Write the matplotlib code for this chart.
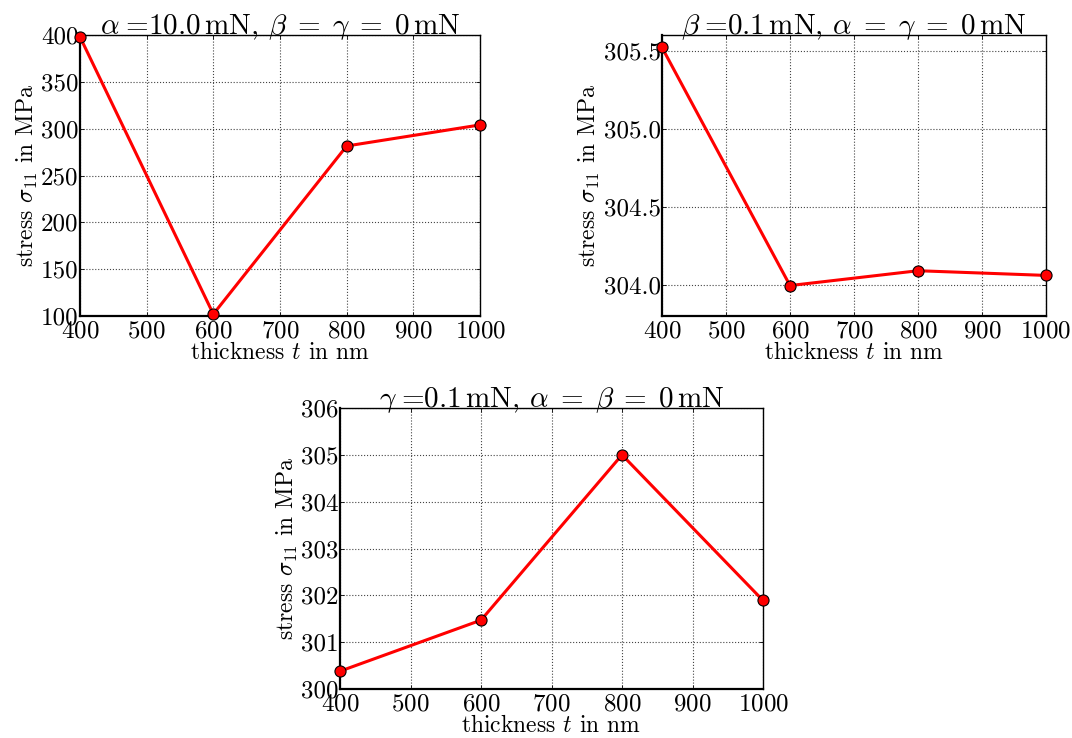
import matplotlib
matplotlib.use('Agg')
import matplotlib.pyplot as plt
from matplotlib.ticker import FormatStrFormatter

plt.rcParams['font.family'] = 'serif'
plt.rcParams['font.serif'] = ['cmr10', 'DejaVu Serif']
plt.rcParams['mathtext.fontset'] = 'cm'
plt.rcParams['axes.formatter.use_mathtext'] = True

# 数据
thickness = [400, 600, 800, 1000]
stress_alpha = [398.0, 102.0, 281.5, 304.0]
stress_beta = [305.52, 303.995, 304.09, 304.06]
stress_gamma = [300.38, 301.47, 305.0, 301.89]

titles = [
    r'$\alpha\;$=10.0$\,$mN, $\beta\;=\;\gamma\;=\;0\,$mN',
    r'$\beta\;$=0.1$\,$mN, $\alpha\;=\;\gamma\;=\;0\,$mN',
    r'$\gamma\;$=0.1$\,$mN, $\alpha\;=\;\beta\;=\;0\,$mN',
]
ylims = [(100, 400), (303.8, 305.6), (300, 306)]
yticks = [[100, 150, 200, 250, 300, 350, 400],
          [304.0, 304.5, 305.0, 305.5],
          [300, 301, 302, 303, 304, 305, 306]]
yfmt = ['%d', '%.1f', '%d']
xticks = [400, 500, 600, 700, 800, 900, 1000]

W, H = 1072, 738
# 轴位置 (像素): left, top, right, bottom
boxes = [(80, 35, 480, 316), (662, 35, 1046, 316), (340, 408, 763, 689)]

fig = plt.figure(figsize=(W / 100, H / 100), dpi=100)

for k, (series, title) in enumerate(zip([stress_alpha, stress_beta, stress_gamma], titles)):
    l, t, r, b = boxes[k]
    ax = fig.add_axes([l / W, 1 - b / H, (r - l) / W, (b - t) / H])
    ax.plot(thickness, series, '-', color='red', linewidth=2.2, marker='o',
            markersize=8, markerfacecolor='red', markeredgecolor='black',
            markeredgewidth=0.8, clip_on=False, zorder=3)
    ax.set_xlim(400, 1000)
    ax.set_ylim(*ylims[k])
    ax.set_xticks(xticks)
    ax.set_yticks(yticks[k])
    ax.yaxis.set_major_formatter(FormatStrFormatter(yfmt[k]))
    ax.grid(True, linestyle=':', color='#444444', linewidth=0.8)
    ax.tick_params(direction='in', length=3, width=0.6, top=True, right=True,
                   labelsize=18)
    ax.tick_params(axis='x', pad=3)
    ax.tick_params(axis='y', pad=1)
    for s in ax.spines.values():
        s.set_linewidth(1.0)
    ax.spines['left'].set_linewidth(1.6)
    ax.spines['bottom'].set_linewidth(1.6)
    ax.set_title(title, fontsize=21, pad=1)
    ax.set_xlabel(r'thickness $t$ in nm', fontsize=17, labelpad=0)
    ax.set_ylabel(r'stress $\sigma_{11}$ in MPa', fontsize=17, labelpad=1)

fig.savefig('out.png', dpi=100)
